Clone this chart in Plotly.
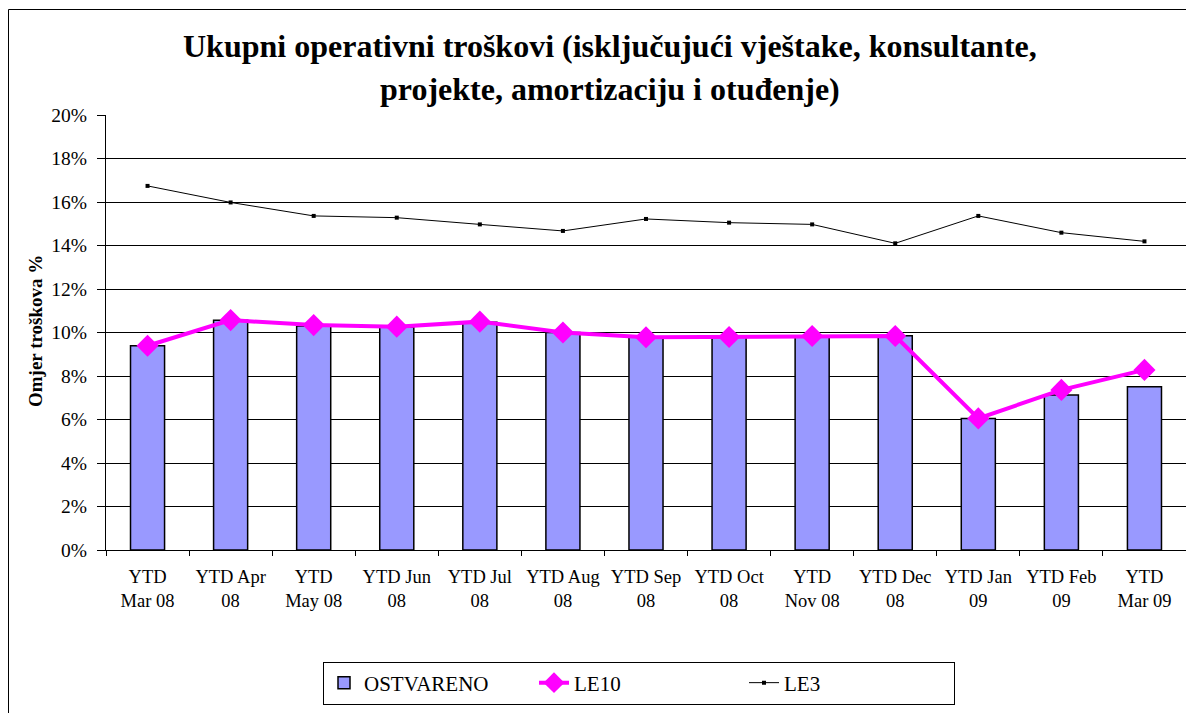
import plotly.graph_objects as go

categories = ["YTD<br>Mar 08", "YTD Apr<br>08", "YTD<br>May 08", "YTD Jun<br>08", "YTD Jul<br>08",
              "YTD Aug<br>08", "YTD Sep<br>08", "YTD Oct<br>08", "YTD<br>Nov 08", "YTD Dec<br>08",
              "YTD Jan<br>09", "YTD Feb<br>09", "YTD<br>Mar 09"]
ostvareno = [9.39, 10.56, 10.30, 10.25, 10.47, 10.0, 9.78, 9.79, 9.84, 9.85, 6.05, 7.13, 7.51]
le10 = [9.39, 10.57, 10.34, 10.27, 10.50, 10.0, 9.78, 9.79, 9.84, 9.84, 6.05, 7.36, 8.28]
le3 = [16.74, 15.98, 15.36, 15.28, 14.97, 14.67, 15.22, 15.05, 14.97, 14.10, 15.36, 14.59, 14.19]
y_tickvals = [0, 2, 4, 6, 8, 10, 12, 14, 16, 18, 20]
y_ticktext = ["0%", "2%", "4%", "6%", "8%", "10%", "12%", "14%", "16%", "18%", "20%"]

W, H = 1186, 713
L, R, T, B = 106, 0, 115, 163
PW = W - L - R
PH = H - T - B

def px2x(px):
    return (px - L) / PW

def px2y(py):
    return (H - B - py) / PH

FONT = "'Liberation Serif', 'Times New Roman', Tinos, 'DejaVu Serif', serif"

fig = go.Figure()
fig.add_trace(go.Bar(x=categories, y=ostvareno, name="OSTVARENO",
                     marker=dict(color="#9999FF", line=dict(color="black", width=1.5))))
fig.add_trace(go.Scatter(x=categories, y=le10, name="LE10", mode="lines+markers",
                         line=dict(color="#FF00FF", width=4),
                         marker=dict(symbol="diamond", size=17, color="#FF00FF")))
fig.add_trace(go.Scatter(x=categories, y=le3, name="LE3", mode="lines+markers",
                         line=dict(color="black", width=1),
                         marker=dict(symbol="square", size=4, color="black")))

fig.update_layout(
    width=W, height=H,
    margin=dict(l=L, r=R, t=T, b=B, autoexpand=False),
    paper_bgcolor="white", plot_bgcolor="white",
    font=dict(family=FONT, color="black", size=18),
    bargap=0.59,
    showlegend=True,
    legend=dict(orientation="h", x=px2x(639), y=px2y(683), xanchor="center", yanchor="middle",
                bordercolor="black", borderwidth=1, font=dict(size=21, family=FONT),
                entrywidth=165, entrywidthmode="pixels", traceorder="normal"),
    xaxis=dict(type="category", range=[-0.5, len(categories) - 0.5],
               showline=True, linecolor="black", linewidth=1,
               ticks="outside", ticklen=5, tickcolor="black", tickson="boundaries",
               ticklabelstandoff=10, tickangle=0,
               showgrid=False, tickfont=dict(size=18.5, family=FONT)),
    yaxis=dict(range=[0, 20], tickmode="array", tickvals=y_tickvals, ticktext=y_ticktext,
               showline=True, linecolor="black",
               linewidth=1, ticks="outside", ticklen=8, tickcolor="black",
               ticklabelstandoff=6,
               showgrid=True, gridcolor="black", gridwidth=1, zeroline=False,
               tickfont=dict(size=19.5, family=FONT)),
)

fig.add_annotation(text="<b>Ukupni operativni troškovi (isključujući vještake, konsultante,</b>",
                   xref="paper", yref="paper", x=px2x(610), y=px2y(46), showarrow=False,
                   xanchor="center", yanchor="middle", font=dict(size=32, family=FONT))
fig.add_annotation(text="<b>projekte, amortizaciju i otuđenje)</b>",
                   xref="paper", yref="paper", x=px2x(610), y=px2y(89), showarrow=False,
                   xanchor="center", yanchor="middle", font=dict(size=32, family=FONT))
fig.add_annotation(text="<b>Omjer troškova %</b>", textangle=-90,
                   xref="paper", yref="paper", x=px2x(35), y=px2y(331), showarrow=False,
                   xanchor="center", yanchor="middle", font=dict(size=19, family=FONT))

fig.add_shape(type="rect", xref="paper", yref="paper",
              x0=px2x(8.5), x1=px2x(1300), y0=px2y(9.5), y1=px2y(800),
              line=dict(color="black", width=1), fillcolor="rgba(0,0,0,0)", layer="below")

fig.write_html("out.html", config={"displayModeBar": False},
               post_script="document.body.style.margin='0';document.body.style.overflow='hidden';")
